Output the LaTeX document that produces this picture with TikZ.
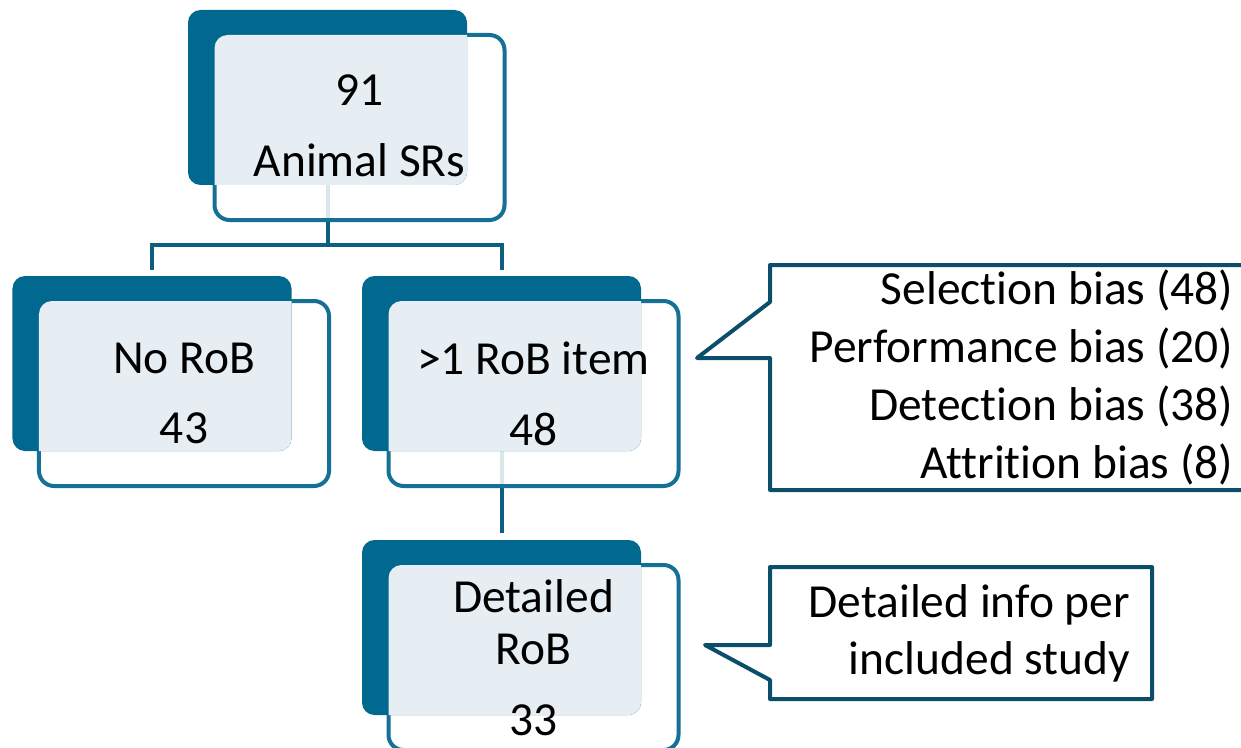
\documentclass[tikz,border=0pt]{standalone}
\usepackage{fontspec}
\setmainfont{Carlito}[Ligatures=NoCommon]

\definecolor{boxdark}{RGB}{1,104,143}
\definecolor{boxline}{RGB}{20,112,148}
\definecolor{boxlight}{RGB}{230,238,243}
\definecolor{linkcol}{RGB}{12,95,128}
\definecolor{calloutcol}{RGB}{11,78,106}

\tikzset{
  backbox/.style={minimum width=5.58cm, minimum height=3.5cm, inner sep=0pt, outer sep=0pt},
  frontbox/.style={draw=boxline, line width=0.08cm, fill=white, fill opacity=0.85,
    rounded corners=0.3cm, minimum width=5.8cm, minimum height=3.7cm, inner sep=0pt},
  boxtext/.style={align=center, inner sep=0pt, font=\fontsize{27}{30}\selectfont},
  link/.style={draw=linkcol, line width=0.08cm},
  notetext/.style={align=flush right, inner ysep=0pt, outer sep=0pt},
  noteline/.style={draw=calloutcol, line width=0.08cm, line join=round}
}

\begin{document}
\begin{tikzpicture}

\useasboundingbox (0,0) rectangle (24.82,14.94);

% Back boxes (only their names here, filled later)
\node[backbox] (top) at (6.55,12.99) {};
\node[backbox] (norob) at (3.04,7.67) {};
\node[backbox] (rob) at (10.03,7.67) {};
\node[backbox] (detail) at (10.03,2.39) {};

% Connectors
\draw[link, shorten >=0.12cm] (top.south) -- ++(0,-1.2) -| (norob.north);
\draw[link, shorten >=0.12cm] (top.south) ++(0,-1.2) -| (rob.north);
\draw[link, shorten >=0.14cm] (rob.south) -- (detail.north);

% Front boxes
\node[frontbox] (topfront) at ([shift={(0.64,-0.6)}]top) {};
\node[frontbox] (norobfront) at ([shift={(0.64,-0.6)}]norob) {};
\node[frontbox] (robfront) at ([shift={(0.64,-0.6)}]rob) {};
\node[frontbox] (detailfront) at ([shift={(0.64,-0.6)}]detail) {};

% Dark back boxes and the light part where they overlap the front box
\foreach \b/\f in {top/topfront, norob/norobfront, rob/robfront, detail/detailfront} {
  \fill[boxdark, rounded corners=0.25cm] (\b.south west) rectangle (\b.north east);
  \begin{scope}
    \clip[rounded corners=0.25cm] (\b.south west) rectangle (\b.north east);
    \fill[boxlight, rounded corners=0.26cm]
      ([shift={(0.04,-0.04)}]\f.north west) rectangle ([shift={(-0.04,0.04)}]\f.south east);
  \end{scope}
}

% Box texts
\node[boxtext] (toptext) at ([yshift=0.04cm]topfront) {91\\[0.36cm]Animal SRs};
\node[boxtext] (norobtext) at (norobfront) {No RoB\\[0.36cm]43};
\node[boxtext] (robtext) at (robfront) {>1 RoB item\\[0.36cm]48};
\node[boxtext] (detailtext) at (detailfront) {Detailed\\RoB\\[0.36cm]33};

% Callout with the bias items
\node[notetext, minimum width=9.46cm, minimum height=4.5cm, text width=9.06cm, inner xsep=0.2cm,
      font=\fontsize{27}{33}\selectfont] (biasbox) at (20.13,7.39)
  {Selection bias (48)\\Performance bias (20)\\Detection bias (38)\\Attrition bias (8)};
\coordinate (biastip) at (13.94,7.78);
\coordinate (biasnotch) at (15.4,8.9);
\draw[noteline] (biasnotch) -- (biasbox.north west) -- (biasbox.north east)
  -- (biasbox.south east) -- (biasbox.south west) -- (biasbox.west |- biastip)
  -- (biastip) -- cycle;

% Callout for the detailed RoB
\node[notetext, minimum width=7.64cm, minimum height=2.64cm, text width=6.76cm, inner xsep=0.44cm,
      font=\fontsize{27}{32.4}\selectfont] (infobox) at (19.22,2.28)
  {Detailed info per\\included study};
\coordinate (infotip) at (14.1,2.04);
\coordinate (infonotch) at (15.4,1.34);
\draw[noteline] (infobox.west |- infotip) -- (infobox.north west) -- (infobox.north east)
  -- (infobox.south east) -- (infobox.south west) -- (infonotch)
  -- (infotip) -- cycle;

\end{tikzpicture}
\end{document}
